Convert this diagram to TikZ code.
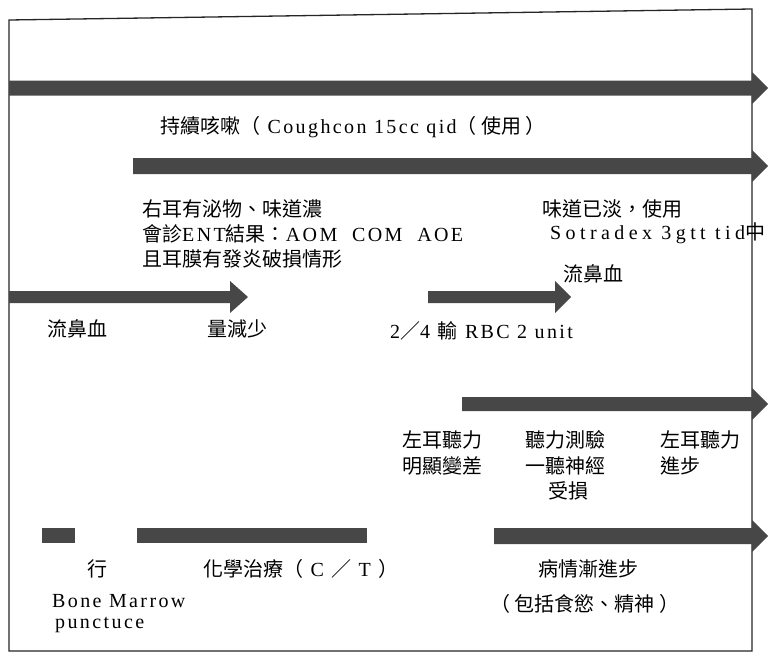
\documentclass[tikz,border=0pt]{standalone}
\usepackage{fontspec}
\setmainfont[LetterSpace=12]{Liberation Serif}
\newfontfamily\cjk{Noto Sans CJK TC}
\newcommand\zh[1]{{\cjk #1}}
% fat timeline arrow: x1, x2 (tip), y, bar half-thickness, head half-height, head length
\newcommand\tlarrow[6]{%
  \fill[barfill] (#1,#3-#4) -- (#2-#6,#3-#4) -- (#2-#6,#3-#5) -- (#2,#3)
     -- (#2-#6,#3+#5) -- (#2-#6,#3+#4) -- (#1,#3+#4) -- cycle;}
\begin{document}
\begin{tikzpicture}[x=1pt,y=-1pt,
  lbl/.style={anchor=base west, inner sep=0pt, font=\fontsize{20}{25}\selectfont},
  barfill/.style={fill=black!72},
  frame/.style={draw=black!85, line width=1.3pt}]
\useasboundingbox (0,0) rectangle (768,653);
\fill[white] (0,0) rectangle (768,653);
% frame
\draw[frame] (9,20) -- (752,9) -- (752,651) -- (9,651) -- cycle;
% arrows
\tlarrow{9}{768}{88}{7.5}{16}{16}
\tlarrow{133}{768}{166}{8}{16}{16}
\tlarrow{9}{248}{297}{6}{16}{18}
\tlarrow{428}{571}{297}{6}{16}{16}
\tlarrow{462}{768}{404}{7}{16}{16}
\fill[barfill] (42,528) rectangle (75,543);
\fill[barfill] (137,528) rectangle (367,543);
\tlarrow{494}{768}{536}{8}{16}{16}
% texts
\node[lbl] (t1) at (160,133) {\zh{持續咳嗽（} Coughcon 15cc qid\zh{（ 使用 ）}};
\node[lbl] (t2) at (142,216) {\zh{右耳有泌物、味道濃}};
\node[lbl] (t3) at (142,241) {\zh{會診}ENT\zh{結果：}AOM\ \ COM\ \ AOE};
\node[lbl] (t4) at (142,266) {\zh{且耳膜有發炎破損情形}};
\node[lbl] (t5) at (542,216) {\zh{味道已淡，使用}};
\node[lbl] (t6) at (550,239) {\addfontfeature{LetterSpace=22}Sotradex 3gtt tid\zh{中}};
\node[lbl] (t7) at (563,281) {\zh{流鼻血}};
\node[lbl] (t8) at (47,336) {\zh{流鼻血}};
\node[lbl] (t9) at (207,336) {\zh{量減少}};
\node[lbl] (t10) at (390,338) {2\zh{／}4 \zh{輸} RBC 2 unit};
\node[lbl] (t11) at (402,447) {\zh{左耳聽力}};
\node[lbl] (t12) at (402,473) {\zh{明顯變差}};
\node[lbl] (t13) at (525,447) {\zh{聽力測驗}};
\node[lbl] (t14) at (525,473) {\zh{一聽神經}};
\node[lbl] (t15) at (548,498) {\zh{受損}};
\node[lbl] (t16) at (660,447) {\zh{左耳聽力}};
\node[lbl] (t17) at (660,473) {\zh{進步}};
\node[lbl] (t18) at (87,576) {\zh{行}};
\node[lbl] (t19) at (203,576) {\zh{化學治療（} C \zh{／} T \zh{）}};
\node[lbl] (t20) at (538,576) {\zh{病情漸進步}};
\node[lbl] (t21) at (490,611) {\zh{（ 包括食慾、精神 ）}};
\node[lbl] (t22) at (52,607) {Bone Marrow};
\node[lbl] (t23) at (55,628) {punctuce};
\end{tikzpicture}
\end{document}
